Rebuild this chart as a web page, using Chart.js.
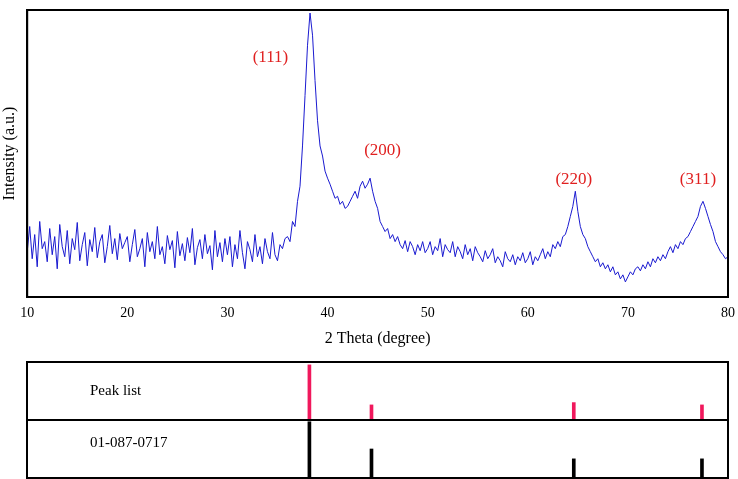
<!DOCTYPE html>
<html>
<head>
<style>
  body { margin: 0; background: #fff; }
  #top { position: absolute; left: 0; top: 0; width: 738px; height: 352px; }
  #bottom { position: absolute; left: 0; top: 360px; width: 738px; height: 119px; }
</style>
</head>
<body>
  <div id="top"><canvas id="xrd"></canvas></div>
  <div id="bottom"><canvas id="peaks"></canvas></div>

<script src="https://cdn.jsdelivr.net/npm/chart.js@4"></script>
<script>
  // XRD pattern, 2 theta from 10 to 80 in 0.25 degree steps
  const thetaStart = 10
  const thetaStep = 0.25
  const intensity = [
    45,70,38,62,30,75,48,55,35,68,42,60,28,72,50,40,66,33,58,47,74,36,52,64,31,57,45,69,39,55,62,34,50,71,43,58,37,63,48,54,
    60,35,52,67,40,48,58,30,64,45,55,38,70,42,50,33,61,47,56,29,65,41,53,36,59,44,68,32,49,57,38,62,43,51,27,66,40,54,35,58,
    42,60,30,52,38,66,44,28,55,47,35,62,40,50,33,58,45,38,64,42,36,52,48,58,
    60,55,75,70,95,110,150,200,250,282,260,215,175,150,140,125,
    118,112,105,98,100,92,95,88,90,95,100,105,98,110,115,108,112,118,105,95,
    88,75,70,65,68,58,62,55,60,52,48,56,45,55,50,42,52,46,55,44,
    48,55,42,50,46,58,40,52,47,44,55,40,50,45,38,52,42,48,36,50,44,40,35,46,38,42,48,34,40,36,30,45,38,35,42,32,40,36,44,34,
    38,45,32,40,36,42,48,38,45,40,52,48,55,50,60,62,70,80,90,105,85,70,62,58,50,45,40,35,38,30,34,28,32,25,30,22,25,18,22,15,
    20,25,22,28,30,26,32,28,35,30,38,34,40,36,42,38,45,50,44,52,48,55,52,58,60,65,70,75,80,90,95,88,80,72,65,55,50,45,42,38,
    40
  ]

  const hklLabels = ['(111)', '(200)', '(220)', '(311)']
  const hklTheta = [34.3, 45.5, 64.6, 77.0]
  const hklY = [238, 145, 117, 117]

  // reference sticks
  const peakTheta = [38.2, 44.4, 64.6, 77.4]
  const peakListHeight = [0.95, 0.26, 0.3, 0.26]
  const cardHeight = [0.97, 0.5, 0.33, 0.33]

  const serif = 'Liberation Serif'

  const boxPlugin = {
    id: 'box',
    afterDraw(chart) {
      const { ctx, chartArea: a } = chart
      ctx.save()
      ctx.strokeStyle = '#000'
      ctx.lineWidth = 2
      ctx.strokeRect(a.left, a.top, a.right - a.left, a.bottom - a.top)
      ctx.restore()
    }
  }

  const hklPlugin = {
    id: 'hkl',
    afterDatasetsDraw(chart) {
      const { ctx, scales } = chart
      ctx.save()
      ctx.fillStyle = '#e02020'
      ctx.font = '17px ' + serif
      ctx.textAlign = 'center'
      ctx.textBaseline = 'middle'
      hklLabels.forEach((t, i) => {
        ctx.fillText(t, scales.x.getPixelForValue(hklTheta[i]), scales.y.getPixelForValue(hklY[i]))
      })
      ctx.restore()
    }
  }

  new Chart(document.getElementById('xrd'), {
    type: 'line',
    data: {
      datasets: [{
        data: intensity.map((v, i) => ({ x: thetaStart + i * thetaStep, y: v })),
        borderColor: '#1a1ad0',
        borderWidth: 1,
        pointRadius: 0,
        tension: 0
      }]
    },
    options: {
      responsive: true,
      maintainAspectRatio: false,
      animation: false,
      layout: { padding: { top: 10, right: 10 } },
      plugins: { legend: { display: false }, tooltip: { enabled: false } },
      scales: {
        x: {
          type: 'linear', min: 10, max: 80,
          grid: { display: false, drawTicks: true, tickLength: 5, tickColor: '#000' },
          border: { color: '#000', width: 2 },
          ticks: { stepSize: 10, color: '#000', font: { family: serif, size: 14 } },
          title: { display: true, text: '2 Theta (degree)', color: '#000', font: { family: serif, size: 16 } }
        },
        y: {
          min: 0, max: 285,
          grid: { display: false },
          border: { color: '#000', width: 2 },
          ticks: { display: false },
          title: { display: true, text: 'Intensity (a.u.)', color: '#000', font: { family: serif, size: 16 }, padding: 0 }
        }
      }
    },
    plugins: [boxPlugin, hklPlugin]
  })

  const rowLabelPlugin = {
    id: 'rowLabels',
    afterDraw(chart) {
      const { ctx, chartArea: a, scales } = chart
      ctx.save()
      ctx.strokeStyle = '#000'
      ctx.lineWidth = 2
      const mid = scales.y.getPixelForValue(1)
      ctx.beginPath(); ctx.moveTo(a.left, mid); ctx.lineTo(a.right, mid); ctx.stroke()
      ctx.fillStyle = '#000'
      ctx.font = '15px ' + serif
      ctx.textBaseline = 'middle'
      ctx.fillText('Peak list', 90, scales.y.getPixelForValue(1.5))
      ctx.fillText('01-087-0717', 90, scales.y.getPixelForValue(0.6))
      ctx.restore()
    }
  }

  new Chart(document.getElementById('peaks'), {
    type: 'bar',
    data: {
      datasets: [{
        data: peakTheta.map((t, i) => ({ x: t, y: [1, 1 + peakListHeight[i]] })),
        backgroundColor: '#f0185c',
        barThickness: 3,
        grouped: false
      }, {
        data: peakTheta.map((t, i) => ({ x: t, y: [0, cardHeight[i]] })),
        backgroundColor: '#000',
        barThickness: 3,
        grouped: false
      }]
    },
    options: {
      responsive: true,
      maintainAspectRatio: false,
      animation: false,
      layout: { padding: { left: 27, right: 10, top: 2, bottom: 1 } },
      plugins: { legend: { display: false }, tooltip: { enabled: false } },
      scales: {
        x: { type: 'linear', min: 10, max: 80, offset: false, display: false },
        y: { min: 0, max: 2, display: false }
      }
    },
    plugins: [boxPlugin, rowLabelPlugin]
  })
</script>
</body>
</html>
